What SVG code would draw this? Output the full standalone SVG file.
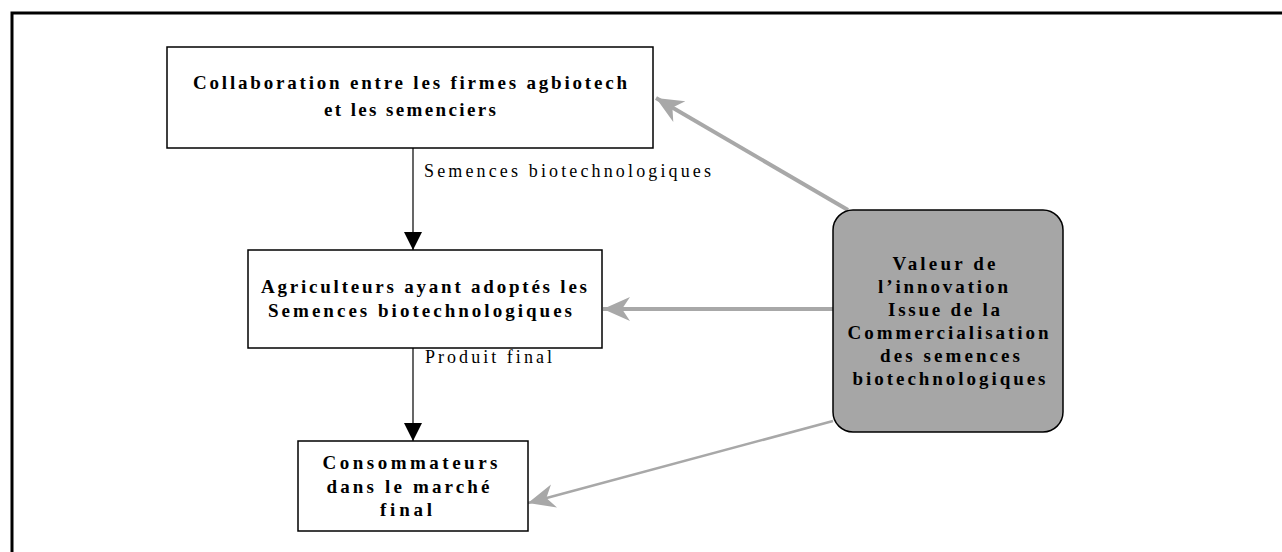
<svg xmlns="http://www.w3.org/2000/svg" width="1282" height="552" viewBox="0 0 1282 552">
<defs>
<style>
.box{fill:#fff;stroke:#000;stroke-width:1.5}
.val{fill:#a6a6a6;stroke:#000;stroke-width:1.5}
.t{font-family:"Liberation Serif","Times New Roman",serif;font-weight:bold;font-size:19px;fill:#000;text-anchor:middle}
.lbl{font-family:"Liberation Serif","Times New Roman",serif;font-size:18px;fill:#000}
.blk{stroke:#000;stroke-width:1.2;fill:none}
.gry{stroke:#a8a8a8;fill:none}
</style>
<marker id="ab" markerUnits="userSpaceOnUse" markerWidth="18" markerHeight="18" viewBox="0 0 16 16" refX="16" refY="8" orient="auto">
<path d="M0,0 L16,8 L0,16 Z" fill="#000"/>
</marker>
<marker id="ag" markerUnits="userSpaceOnUse" markerWidth="28" markerHeight="26" viewBox="0 0 28 26" refX="27" refY="13" orient="auto">
<path d="M27,13 L0,1 L8,13 L0,25 Z" fill="#a8a8a8"/>
</marker>
</defs>
<rect width="1282" height="552" fill="#fff"/>
<g id="frame">
<path d="M12,552 L12,13 L1282,13" fill="none" stroke="#000" stroke-width="3"/>
</g>
<g id="connectors">
<line class="blk" x1="413" y1="148" x2="413" y2="250" marker-end="url(#ab)"/>
<line class="blk" x1="413" y1="348" x2="413" y2="441" marker-end="url(#ab)"/>
<line class="gry" stroke-width="4" x1="848" y1="210" x2="656" y2="98" marker-end="url(#ag)"/>
<line class="gry" stroke-width="4" x1="833" y1="309" x2="603" y2="309" marker-end="url(#ag)"/>
<line class="gry" stroke-width="2.5" x1="833" y1="421" x2="528" y2="503" marker-end="url(#ag)"/>
<text class="lbl" x="424" y="177" textLength="287" lengthAdjust="spacing">Semences biotechnologiques</text>
<text class="lbl" x="425" y="363" textLength="127" lengthAdjust="spacing">Produit final</text>
</g>
<g id="n1">
<rect class="box" x="167" y="47" width="486" height="101"/>
<text class="t" x="410" y="89" textLength="434" lengthAdjust="spacing">Collaboration entre les firmes agbiotech</text>
<text class="t" x="410" y="116" textLength="172" lengthAdjust="spacing">et les semenciers</text>
</g>
<g id="n2">
<rect class="box" x="248" y="250" width="354" height="98"/>
<text class="t" x="424" y="293" textLength="326" lengthAdjust="spacing">Agriculteurs ayant adoptés les</text>
<text class="t" x="420" y="317" textLength="304" lengthAdjust="spacing">Semences biotechnologiques</text>
</g>
<g id="n3">
<rect class="box" x="298" y="441" width="230" height="90"/>
<text class="t" x="410" y="469" textLength="175" lengthAdjust="spacing">Consommateurs</text>
<text class="t" x="408" y="493" textLength="163" lengthAdjust="spacing">dans le marché</text>
<text class="t" x="406" y="516" textLength="52" lengthAdjust="spacing">final</text>
</g>
<g id="n4">
<rect class="val" x="833" y="210" width="230" height="222" rx="20" ry="20"/>
<text class="t" x="944" y="270" textLength="103" lengthAdjust="spacing">Valeur de</text>
<text class="t" x="943" y="293" textLength="130" lengthAdjust="spacing">l’innovation</text>
<text class="t" x="944" y="316" textLength="112" lengthAdjust="spacing">Issue de la</text>
<text class="t" x="948" y="339" textLength="201" lengthAdjust="spacing">Commercialisation</text>
<text class="t" x="950" y="362" textLength="140" lengthAdjust="spacing">des semences</text>
<text class="t" x="949" y="385" textLength="193" lengthAdjust="spacing">biotechnologiques</text>
</g>
</svg>
